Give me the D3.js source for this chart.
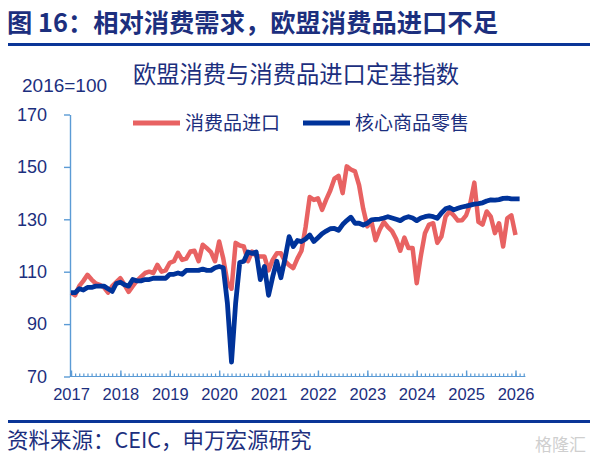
<!DOCTYPE html>
<html>
<head>
<meta charset="utf-8">
<script src="https://cdn.jsdelivr.net/npm/d3@7"></script>
<style>
  body { margin: 0; background: #fff; }
  text { font-family: "Liberation Sans", Arial, "Noto Sans CJK SC", sans-serif; }
  .cjk { font-family: "Noto Sans CJK SC", sans-serif; }
</style>
</head>
<body>
<div id="chart"></div>
<script>
// monthly index, 0 = Jan 2017
const years = ["2017", "2018", "2019", "2020", "2021", "2022", "2023", "2024", "2025", "2026"];
const yTicks = [70, 90, 110, 130, 150, 170];

const seriesNames = ["消费品进口", "核心商品零售"];

// 消费品进口
const imports = [
  102, 101, 104.5, 106.5, 108.8, 107, 105.5, 105, 104, 102, 104.5, 106,
  107.5, 105, 102.3, 104.5, 106.5, 108, 109.5, 110, 109.5, 112.6, 110, 110.5,
  113.4, 114, 117.2, 114.5, 115, 117.7, 118, 114, 120.3, 119, 117.5, 114,
  121.5, 115, 106, 103.5, 121, 120, 119.6, 114, 117.7, 116, 115.8, 115.8,
  110.5, 114.5, 117, 117, 114, 112.5, 111.4, 115, 118, 127, 138.5, 137.4,
  138, 133.6, 137.5, 141, 145.5, 146.6, 140, 150.2, 149, 148.3, 143, 134,
  127.3, 129.2, 122, 126, 129, 127, 125.5, 122.5, 118, 123, 119, 119,
  105.6, 116, 124.7, 128, 128.5, 121, 123.4, 131, 133, 131.5, 129.5, 129.6,
  131.5, 136, 144, 129, 128, 133, 131, 124.7, 128.5, 119.6, 130.4, 131.5,
  124
];

// 核心商品零售
const retail = [
  102, 102, 103.5, 103, 104, 104, 104.5, 104.5, 104.5, 103.5, 102.5, 105.5,
  106, 105, 104.5, 107, 106.5, 106.5, 107, 107, 107.5, 107.5, 107.5, 107.5,
  109, 109, 109.5, 109, 110.5, 110.5, 110.5, 110.5, 111, 110.5, 110.5, 111.5,
  112, 111.5, 98, 75.5, 98, 113.5, 114, 117.5, 117, 117.5, 107, 112,
  101, 108, 114, 107.7, 115, 123.4, 119.6, 121.9, 121.5, 122.5, 124, 121.5,
  123, 124.5, 125.5, 126.4, 126.5, 125.8, 128, 129.5, 130.8, 128.5, 128.5, 127.8,
  128.5, 129.8, 130, 130.1, 130.5, 131, 130.5, 130, 129.5, 130.5, 131, 130.5,
  129.5, 130.5, 131, 131.3, 131, 130.4, 132.4, 134, 134.5, 133.6, 134.2, 134.7,
  135, 135.4, 135.8, 136, 136.3, 137, 137.4, 137.3, 137.5, 138, 138.1, 137.8,
  137.8, 137.8
];

function createChart() {
  const width = 590, height = 463;
  const navy = "#1c2f7e";
  const axisColor = "#5b9bd5";
  const red = "#e86262";
  const blue = "#00339a";

  const svg = d3.select("#chart").append("svg")
      .attr("width", width)
      .attr("height", height);

  // title + rule
  svg.append("text")
      .attr("class", "cjk")
      .attr("x", 7).attr("y", 32)
      .attr("font-size", 25.3).attr("font-weight", "bold")
      .attr("fill", navy)
      .text("图 16：相对消费需求，欧盟消费品进口不足");
  svg.append("rect")
      .attr("x", 8).attr("y", 43).attr("width", width - 8).attr("height", 3)
      .attr("fill", "#0a3597");

  svg.append("text")
      .attr("class", "cjk")
      .attr("x", 296).attr("y", 83)
      .attr("text-anchor", "middle")
      .attr("font-size", 23.3)
      .attr("fill", navy)
      .text("欧盟消费与消费品进口定基指数");

  svg.append("text")
      .attr("x", 22).attr("y", 92)
      .attr("font-size", 19)
      .attr("fill", navy)
      .text("2016=100");

  // scales
  const x = d3.scaleLinear().domain([0, 108]).range([71, 515.5]);
  const y = d3.scaleLinear().domain([70, 170]).range([376.5, 114.5]);

  // y axis
  const yAxis = svg.append("g")
      .attr("transform", "translate(70,0)")
      .call(d3.axisLeft(y).tickValues(yTicks).tickSize(6).tickSizeOuter(0).tickPadding(17));
  yAxis.selectAll("path, line").attr("stroke", axisColor).attr("stroke-width", 1.4);
  yAxis.selectAll("text").attr("font-size", 18).attr("fill", navy)
      .attr("font-family", "'Liberation Sans', Arial, sans-serif");

  // x axis: monthly minor ticks, yearly major ticks
  const months = d3.range(0, 111);
  const xMinor = svg.append("g")
      .attr("transform", "translate(0,376.5)")
      .call(d3.axisBottom(x).tickValues(months).tickSize(-3).tickSizeOuter(0).tickFormat(""));
  xMinor.select(".domain").attr("d", `M${x(-0.3)},0H${x(110.4)}`);
  xMinor.selectAll("path, line").attr("stroke", axisColor).attr("stroke-width", 1.2);

  const xMajor = svg.append("g")
      .attr("transform", "translate(0,376.5)")
      .call(d3.axisBottom(x).tickValues(years.map((d, i) => i * 12))
        .tickSize(-6).tickSizeOuter(0).tickPadding(12)
        .tickFormat((d, i) => years[i]));
  xMajor.select(".domain").remove();
  xMajor.selectAll("line").attr("stroke", axisColor).attr("stroke-width", 1.4);
  xMajor.selectAll("text").attr("font-size", 16.5).attr("fill", navy)
      .attr("font-family", "'Liberation Sans', Arial, sans-serif");

  // lines
  const line = d3.line()
      .x((d, i) => x(i))
      .y(d => y(d))
      .curve(d3.curveLinear);

  svg.append("path")
      .datum(imports)
      .attr("fill", "none")
      .attr("stroke", red)
      .attr("stroke-width", 4.5)
      .attr("stroke-linejoin", "round")
      .attr("d", line);

  svg.append("path")
      .datum(retail)
      .attr("fill", "none")
      .attr("stroke", blue)
      .attr("stroke-width", 4.8)
      .attr("stroke-linejoin", "round")
      .attr("d", line);

  // legend
  const legend = [
    {name: seriesNames[0], color: red, x: 133},
    {name: seriesNames[1], color: blue, x: 303}
  ];
  const lg = svg.append("g").selectAll("g").data(legend).join("g")
      .attr("transform", d => `translate(${d.x},123)`);
  lg.append("line")
      .attr("x1", 0).attr("x2", 47)
      .attr("stroke", d => d.color).attr("stroke-width", 5);
  lg.append("text")
      .attr("class", "cjk")
      .attr("x", 52).attr("y", 7)
      .attr("font-size", 19).attr("fill", navy)
      .text(d => d.name);

  // bottom rule + source
  svg.append("rect")
      .attr("x", 8).attr("y", 420).attr("width", width - 8).attr("height", 3)
      .attr("fill", "#0a3597");
  svg.append("text")
      .attr("class", "cjk")
      .attr("x", 7).attr("y", 448)
      .attr("font-size", 21.5).attr("fill", navy)
      .text("资料来源：CEIC，申万宏源研究");

  svg.append("text")
      .attr("class", "cjk")
      .attr("x", 586).attr("y", 451)
      .attr("text-anchor", "end")
      .attr("font-size", 17).attr("fill", "#cfcfcf")
      .text("格隆汇");
}

createChart();
</script>
</body>
</html>
